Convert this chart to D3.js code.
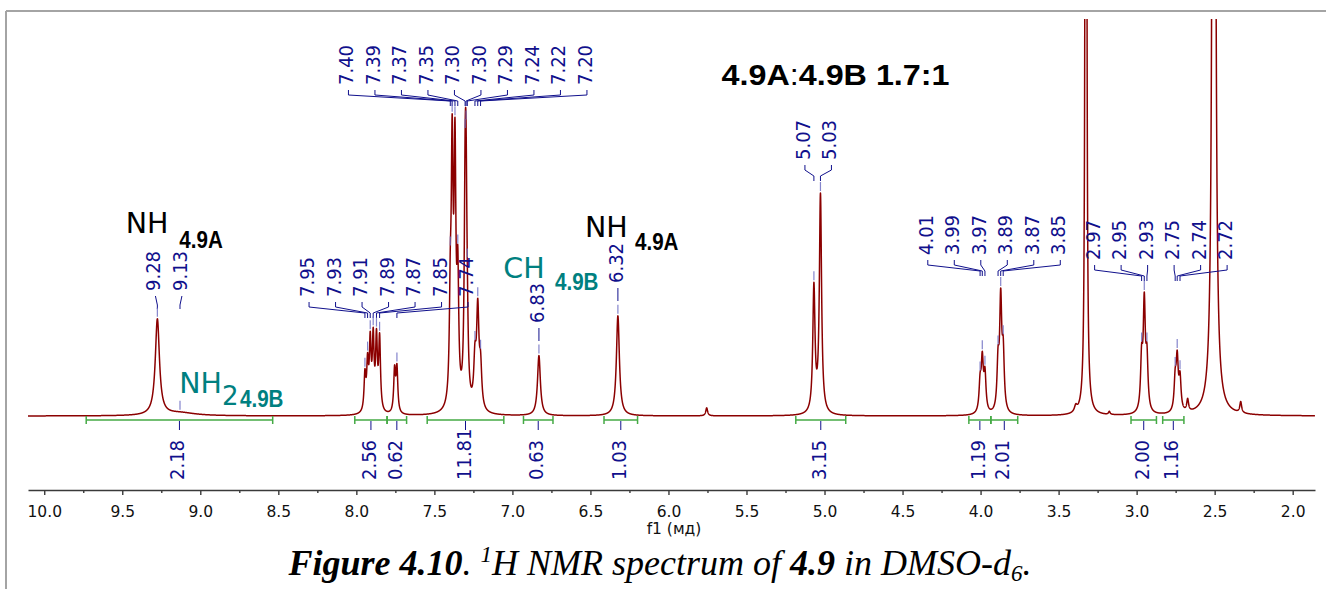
<!DOCTYPE html>
<html><head><meta charset="utf-8">
<script src="https://cdn.jsdelivr.net/npm/d3@7"></script>
<style>
html,body{margin:0;padding:0;background:#fff;}
svg{display:block;}
</style></head>
<body><svg id="c" width="1326" height="589"></svg>
<script>
// ---------------- DATA ----------------
// Lorentzian lines of the spectrum: chemical shift (ppm), height (intensity units), half width (ppm)
const peakShift  = [9.275, 9.13, 7.945, 7.928, 7.911, 7.892, 7.871, 7.851, 7.755, 7.740,
                    7.398, 7.386, 7.368, 7.350, 7.303, 7.297, 7.289, 7.240, 7.222, 7.204,
                    6.830, 6.324, 5.755, 5.068, 5.026, 4.003, 3.989, 3.972, 3.888, 3.871, 3.855,
                    3.390, 3.325, 3.175, 2.968, 2.951, 2.934, 2.753, 2.740, 2.722, 2.673, 2.505, 2.333];
const peakHeight = [96, 3, 36, 45, 66, 70, 70, 72, 42, 44,
                    90, 240, 242, 120, 170, 170, 40, 45, 96, 40,
                    60, 100, 8, 125, 218, 28, 50, 37, 46, 108, 55,
                    6, 3000, 3, 50, 105, 50, 30, 50, 32, 12, 3000, 11];
const peakWidth  = [0.016, 0.12, 0.0068, 0.0068, 0.0068, 0.0068, 0.0068, 0.0068, 0.0068, 0.0068,
                    0.007, 0.007, 0.007, 0.007, 0.007, 0.007, 0.007, 0.009, 0.009, 0.009,
                    0.011, 0.0115, 0.007, 0.0085, 0.0085, 0.008, 0.008, 0.008, 0.008, 0.008, 0.008,
                    0.010, 0.0029, 0.006, 0.008, 0.008, 0.008, 0.008, 0.008, 0.008, 0.007, 0.0058, 0.007];

// Peak picking: position and printed label
const pickShift = [9.275, 9.13,
                   7.945, 7.928, 7.911, 7.892, 7.871, 7.851, 7.740,
                   7.398, 7.386, 7.368, 7.350, 7.303, 7.297, 7.289, 7.240, 7.222, 7.204,
                   6.830, 6.324, 5.068, 5.026,
                   4.003, 3.989, 3.972, 3.888, 3.871, 3.855,
                   2.968, 2.951, 2.934, 2.753, 2.740, 2.722];
const pickLabel = ["9.28", "9.13",
                   "7.95", "7.93", "7.91", "7.89", "7.87", "7.85", "7.74",
                   "7.40", "7.39", "7.37", "7.35", "7.30", "7.30", "7.29", "7.24", "7.22", "7.20",
                   "6.83", "6.32", "5.07", "5.03",
                   "4.01", "3.99", "3.97", "3.89", "3.87", "3.85",
                   "2.97", "2.95", "2.93", "2.75", "2.74", "2.72"];

// Integrals: region start/end (ppm) and value
const integFrom  = [9.731, 8.010, 7.803, 7.546, 6.929, 6.413, 5.184, 4.075, 3.934, 3.036, 2.833];
const integTo    = [8.536, 7.803, 7.678, 7.055, 6.740, 6.198, 4.864, 3.934, 3.762, 2.873, 2.697];
const integValue = ["2.18", "2.56", "0.62", "11.81", "0.63", "1.03", "3.15", "1.19", "2.01", "2.00", "1.16"];

// Axis
const majorTicks = [10.0, 9.5, 9.0, 8.5, 8.0, 7.5, 7.0, 6.5, 6.0, 5.5, 5.0, 4.5, 4.0, 3.5, 3.0, 2.5, 2.0];
const minorTicks = [9.75, 9.25, 8.75, 8.25, 7.75, 7.25, 6.75, 6.25, 5.75, 5.25, 4.75, 4.25, 3.75, 3.25, 2.75, 2.25];
const axisTitle = "f1 (мд)";

// Annotation texts
const assignMain = ["NH", "NH", "CH", "NH"];
const assignSub  = ["4.9A", "4.9A", "4.9B", "4.9B"];
const ratioText  = ["4.9A", ":", "4.9B 1.7:1"];

// ---------------- LAYOUT ----------------
const W = 1326, H = 589;
const svg = d3.select("#c");
const x = d3.scaleLinear().domain([10.104, 1.857]).range([28, 1315]);
const y = d3.scaleLinear().domain([0, 396]).range([416, 20]);

const NAVY = "#10108c", MARK = "#7070c4", GREEN = "#45aa45", TEAL = "#008080", RED = "#8b0000";
const LABEL_FONT = "'DejaVu Sans Condensed','DejaVu Sans',sans-serif";
const LABEL_SIZE = 20;

function intensity(p) {
  let s = 0;
  for (let i = 0; i < peakShift.length; i++) {
    const d = (p - peakShift[i]) / peakWidth[i];
    s += peakHeight[i] / (1 + d * d);
  }
  return s;
}

// frame
svg.append("line").attr("x1", 6).attr("y1", 11).attr("x2", W).attr("y2", 11)
  .attr("stroke", "#a4a4a4").attr("stroke-width", 2);
svg.append("line").attr("x1", 6).attr("y1", 11).attr("x2", 6).attr("y2", H)
  .attr("stroke", "#a4a4a4").attr("stroke-width", 2);

// clip
svg.append("defs").append("clipPath").attr("id", "plotclip")
  .append("rect").attr("x", 28).attr("y", 19).attr("width", 1287).attr("height", 470);

// spectrum
const samples = d3.range(10.104, 1.857, -0.0005).map(p => [p, intensity(p)]);
svg.append("path")
  .attr("clip-path", "url(#plotclip)")
  .attr("d", d3.line().x(d => x(d[0])).y(d => Math.max(y(d[1]), -50))(samples))
  .attr("fill", "none").attr("stroke", RED).attr("stroke-width", 1.5)
  .attr("stroke-linejoin", "round");

// axis
const axisG = svg.append("g").attr("transform", "translate(0,490)");
axisG.call(d3.axisBottom(x).tickValues(majorTicks).tickFormat(d3.format(".1f"))
  .tickSize(5).tickSizeOuter(0).tickPadding(10.5));
axisG.select(".domain").attr("stroke", "#3a3a3a").attr("stroke-width", 1.6);
axisG.selectAll(".tick line").attr("stroke", "#3a3a3a").attr("stroke-width", 1.4);
axisG.selectAll(".tick text").attr("font-family", "'DejaVu Sans',sans-serif")
  .attr("font-size", 15.5).attr("fill", "#111");
const minorG = svg.append("g").attr("transform", "translate(0,490)");
minorG.call(d3.axisBottom(x).tickValues(minorTicks).tickFormat("").tickSize(3).tickSizeOuter(0));
minorG.select(".domain").remove();
minorG.selectAll(".tick line").attr("stroke", "#3a3a3a").attr("stroke-width", 1.4);
svg.append("text").attr("x", 674).attr("y", 534).attr("text-anchor", "middle")
  .attr("font-family", "'DejaVu Sans',sans-serif").attr("font-size", 15.5).attr("fill", "#111")
  .text(axisTitle);

// rotated label helper
function vLabel(g, lx, yb, txt) {
  g.append("text")
    .attr("transform", `translate(${lx},${yb}) rotate(-90)`)
    .attr("dy", 5)
    .attr("font-family", LABEL_FONT).attr("font-size", LABEL_SIZE)
    .attr("fill", NAVY).text(txt);
}

// integrals
const ig = svg.append("g");
integFrom.forEach((f, i) => {
  const x1 = x(f), x2 = x(integTo[i]), cx = (x1 + x2) / 2;
  ig.append("line").attr("x1", x1).attr("x2", x2).attr("y1", 420).attr("y2", 420)
    .attr("stroke", GREEN).attr("stroke-width", 1.5);
  [x1, x2].forEach(xx => ig.append("line").attr("x1", xx).attr("x2", xx).attr("y1", 416).attr("y2", 424)
    .attr("stroke", GREEN).attr("stroke-width", 1.5));
  ig.append("line").attr("x1", cx).attr("x2", cx).attr("y1", 421).attr("y2", 430)
    .attr("stroke", NAVY).attr("stroke-width", 1);
  vLabel(ig, cx, 480, integValue[i]);
});

// peak labels
const groups = [
  {idx: [0, 1], yb: 291, shift: 0, kind: "single"},
  {idx: [2, 3, 4, 5, 6, 7, 8], yb: 297, shift: 13, kind: "bracket"},
  {idx: [9, 10, 11, 12, 13, 14, 15, 16, 17, 18], yb: 85, shift: 3, kind: "bracket"},
  {idx: [19], yb: 323, shift: 0, kind: "single"},
  {idx: [20], yb: 283, shift: 0, kind: "single"},
  {idx: [21, 22], yb: 160, shift: 1, kind: "bracket"},
  {idx: [23, 24, 25, 26, 27, 28], yb: 255, shift: 2.5, kind: "bracket"},
  {idx: [29, 30, 31, 32, 33, 34], yb: 260, shift: 0, kind: "bracket"}
];
const SP = 26.5;
const pg = svg.append("g");
groups.forEach(gr => {
  const pxs = gr.idx.map(i => x(pickShift[i]));
  const c = d3.mean(pxs) + gr.shift;
  const n = gr.idx.length;
  gr.idx.forEach((pi, k) => {
    const lx = c + (k - (n - 1) / 2) * SP;
    const px = pxs[k];
    const yb = gr.yb;
    let d;
    if (gr.kind === "bracket") {
      d = `M${lx},${yb + 5}V${yb + 10}L${px},${yb + 16}V${yb + 21}`;
    } else {
      d = `M${lx},${yb + 5}L${px},${yb + 14}V${yb + 18}`;
    }
    pg.append("path").attr("d", d).attr("fill", "none").attr("stroke", NAVY).attr("stroke-width", 1);
    vLabel(pg, lx, yb, pickLabel[pi]);
    const top = Math.max(y(intensity(pickShift[pi])), 22);
    pg.append("line").attr("x1", px).attr("x2", px).attr("y1", top - 11).attr("y2", top - 2)
      .attr("stroke", MARK).attr("stroke-width", 1.2).attr("opacity", 0.85);
  });
});

// assignment annotations
const an = svg.append("g");
const annLayout = [
  {mx: 125.7, my: 233.4, sx: 179.3, sy: 248.3, col: "#000"},
  {mx: 585, my: 236.7, sx: 635, sy: 250, col: "#000"},
  {mx: 503.3, my: 278.3, sx: 555, sy: 290, col: TEAL},
  {mx: 179.3, my: 393, sx: 240, sy: 406.7, col: TEAL}
];
annLayout.forEach((a, i) => {
  an.append("text").attr("x", a.mx).attr("y", a.my).attr("font-family", "'DejaVu Sans',sans-serif")
    .attr("font-size", 28.5).attr("fill", a.col).text(assignMain[i]);
  an.append("text").attr("x", a.sx).attr("y", a.sy)
    .attr("font-family", "'Liberation Sans Narrow','Liberation Sans',sans-serif")
    .attr("font-weight", "bold").attr("font-size", 24.5).attr("fill", a.col)
    .attr("textLength", 43.5).attr("lengthAdjust", "spacingAndGlyphs")
    .text(assignSub[i]);
});
an.append("text").attr("x", 222).attr("y", 405).attr("font-family", "'DejaVu Sans',sans-serif")
  .attr("font-size", 26).attr("fill", TEAL).text("2");

// ratio text
const rt = svg.append("text").attr("x", 721.5).attr("y", 85)
  .attr("font-family", "'Liberation Sans',Arial,sans-serif").attr("font-size", 29.5)
  .attr("font-weight", "bold").attr("fill", "#000")
  .attr("textLength", 228).attr("lengthAdjust", "spacingAndGlyphs");
rt.append("tspan").text(ratioText[0]);
rt.append("tspan").attr("font-weight", "normal").text(ratioText[1]);
rt.append("tspan").text(ratioText[2]);

// caption
const cap = svg.append("text").attr("x", 660).attr("y", 575).attr("text-anchor", "middle")
  .attr("font-family", "'Liberation Serif','Times New Roman',serif").attr("font-style", "italic")
  .attr("font-size", 36).attr("fill", "#000");
cap.append("tspan").attr("font-weight", "bold").text("Figure 4.10");
cap.append("tspan").text(". ");
cap.append("tspan").attr("font-size", 23).attr("dy", -13).text("1");
cap.append("tspan").attr("dy", 13).text("H NMR spectrum of ");
cap.append("tspan").attr("font-weight", "bold").text("4.9");
cap.append("tspan").text(" in DMSO-d");
cap.append("tspan").attr("font-size", 23).attr("dy", 6).text("6");
cap.append("tspan").attr("dy", -6).text(".");
</script>
</body></html>
